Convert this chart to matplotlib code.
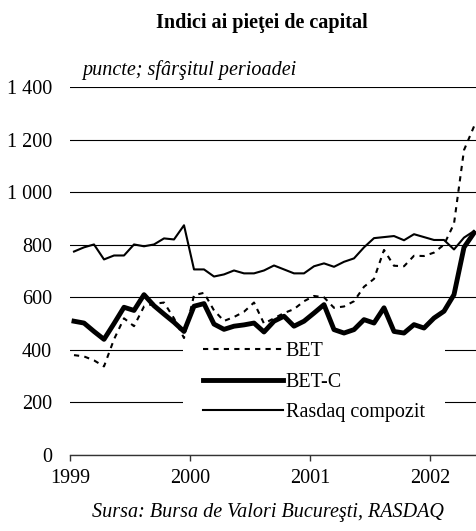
import numpy as np
import matplotlib
matplotlib.use('Agg')
import matplotlib.pyplot as plt

plt.rcParams['font.family'] = ['Liberation Serif', 'DejaVu Serif']
plt.rcParams['font.size'] = 14.5

# valori lunare, ian 1999 - mai 2002 (puncte, sfarsitul perioadei)
bet = [380, 375, 360, 337, 440, 520, 490, 565, 575, 580,
       520, 445, 608, 617, 550, 510, 525, 545, 580, 500,
       520, 540, 555, 585, 605, 600, 560, 565, 585, 640,
       670, 780, 720, 718, 758, 757, 770, 800, 880, 1160, 1250]
bet_c = [509, 502, 470, 440, 500, 562, 550, 610, 568, 536,
         505, 470, 566, 576, 498, 478, 490, 495, 502, 468,
         509, 528, 490, 509, 540, 572, 477, 464, 477, 515,
         502, 560, 470, 464, 496, 483, 521, 547, 610, 790, 845]
rasdaq = [774, 790, 801, 744, 759, 759, 801, 794, 801, 824,
          820, 874, 706, 706, 679, 687, 702, 691, 691, 702,
          721, 706, 691, 691, 718, 729, 716, 735, 748, 790,
          825, 829, 833, 817, 840, 829, 818, 818, 782, 827, 852]
ani = [1999, 2000, 2001, 2002]
y_ticks = [0, 200, 400, 600, 800, 1000, 1200, 1400]

# pozitia fiecarei luni pe axa timpului
x = 1999 + (np.arange(len(bet)) + 0.4) / 12.0

fig = plt.figure(figsize=(4.77, 5.31), dpi=100)
ax = fig.add_axes([70/477, 1-455/531, 406/477, 368/531])

ax.set_axisbelow(True)
ax.yaxis.grid(True, color='black', linewidth=0.8)

l1, = ax.plot(x, bet, color='black', linewidth=1.5, dashes=[2.5, 2.5], zorder=3, label='BET')
l2, = ax.plot(x, bet_c, color='black', linewidth=3.5, zorder=3, label='BET-C',
              solid_joinstyle='round')
l3, = ax.plot(x, rasdaq, color='black', linewidth=1.5, zorder=3, label='Rasdaq compozit')

ax.set_xlim(1999, 1999 + 406/120)
ax.set_ylim(0, 1400)
ax.set_xticks(ani)
ax.set_xticklabels([str(a) for a in ani])
ax.set_yticks(y_ticks)
ax.set_yticklabels([format(v, ',').replace(',', ' ') for v in y_ticks])

for s in ['left', 'right', 'top']:
    ax.spines[s].set_visible(False)
ax.spines['bottom'].set_color('#333333')
ax.spines['bottom'].set_linewidth(1.0)
ax.tick_params(axis='y', length=0, pad=13)
ax.tick_params(axis='x', direction='out', length=4.3, width=1.0, color='#333333', pad=6)

leg = ax.legend(handles=[l1, l2, l3], loc='upper left', bbox_to_anchor=(0.278, 0.361),
                borderaxespad=0, borderpad=1.0, handlelength=3.95, handletextpad=0.15,
                labelspacing=0.55, frameon=True, fancybox=False, framealpha=1)
leg.get_frame().set_facecolor('white')
leg.get_frame().set_edgecolor('none')
leg.set_zorder(1)

fig.text(262/477, 1-23/531, 'Indici ai pieţei de capital', ha='center', va='center',
         fontweight='bold')
fig.text(82/477, 1-75/531, 'puncte; sfârşitul perioadei', ha='left', va='baseline',
         style='italic')
fig.text(268/477, 1-513/531, 'Sursa: Bursa de Valori Bucureşti, RASDAQ', ha='center',
         va='center', style='italic')

fig.savefig('out.png', dpi=100)
